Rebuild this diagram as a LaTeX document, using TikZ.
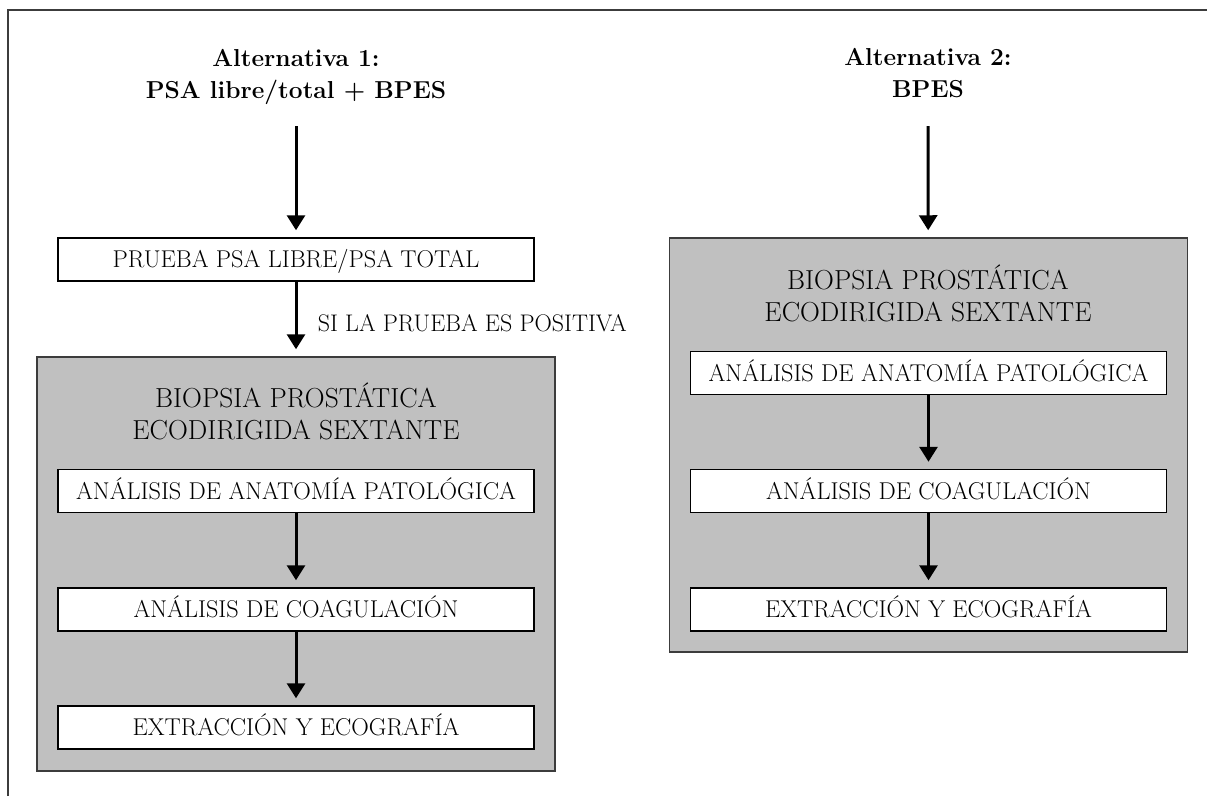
\documentclass[tikz,border=0pt]{standalone}
\usepackage{fontspec}
\usetikzlibrary{arrows.meta}
\definecolor{boxgray}{RGB}{192,192,192}
\definecolor{framegray}{RGB}{60,60,60}
\tikzset{
  title/.style={align=center, font=\fontsize{24.5}{32}\selectfont\bfseries},
  heading/.style={align=center, font=\fontsize{27.5}{32}\selectfont},
  note/.style={font=\fontsize{24}{28}\selectfont},
  stepbox/.style={draw=black, fill=white, line width=1.5pt, minimum width=476pt,
    minimum height=43pt, inner sep=0pt, text height=16.6pt, text depth=0pt,
    font=\fontsize{24.3}{28}\selectfont},
  groupbox/.style={draw=framegray, fill=boxgray, line width=1.5pt, minimum width=518pt,
    minimum height=414pt, inner sep=0pt}
}
\begin{document}
\begin{tikzpicture}[x=1pt,y=-1pt]
\useasboundingbox (0,0) rectangle (1207,796);
\draw[framegray, line width=1.5pt] (8,796) -- (8,10) -- (1207,10);

\node[title] (alt1) at (296,77) {Alternativa 1:\\PSA libre/total + BPES};
\node[title] (alt2) at (928,73.5) {Alternativa 2:\\BPES};
\coordinate (alt1end) at (296,126);
\coordinate (alt2end) at (928,126);

\begin{scope}[every node/.style=groupbox]
  \node (biopL) at (296,564) {};
  \node (biopR) at (928.5,445) {};
\end{scope}
\node[heading] (headL) at (296,411.5) {BIOPSIA PROSTÁTICA\\ECODIRIGIDA SEXTANTE};
\node[heading] (headR) at (928,293.5) {BIOPSIA PROSTÁTICA\\ECODIRIGIDA SEXTANTE};

\begin{scope}[every node/.style=stepbox]
  \node (psa) at (296,259.5) {PRUEBA PSA LIBRE/PSA TOTAL};
  \node (anaL) at (296,491) {ANÁLISIS DE ANATOMÍA PATOLÓGICA};
  \node (coaL) at (296,609.5) {ANÁLISIS DE COAGULACIÓN};
  \node (extL) at (296,727.5) {EXTRACCIÓN Y ECOGRAFÍA};
  \node (anaR) at (928.5,373) {ANÁLISIS DE ANATOMÍA PATOLÓGICA};
  \node (coaR) at (928.5,491) {ANÁLISIS DE COAGULACIÓN};
  \node (extR) at (928.5,609.5) {EXTRACCIÓN Y ECOGRAFÍA};
\end{scope}

\begin{scope}[every edge/.style={draw=black, line width=3pt,
    -{Triangle[width=18pt,length=15pt]}, shorten >=7pt}]
  \path (alt1end) edge (psa);
  \path (psa) edge node[note, right=17pt, pos=0.55] {SI LA PRUEBA ES POSITIVA} (biopL);
  \path (anaL) edge (coaL);
  \path (coaL) edge (extL);
  \path (alt2end) edge (biopR);
  \path (anaR) edge (coaR);
  \path (coaR) edge (extR);
\end{scope}
\end{tikzpicture}
\end{document}
